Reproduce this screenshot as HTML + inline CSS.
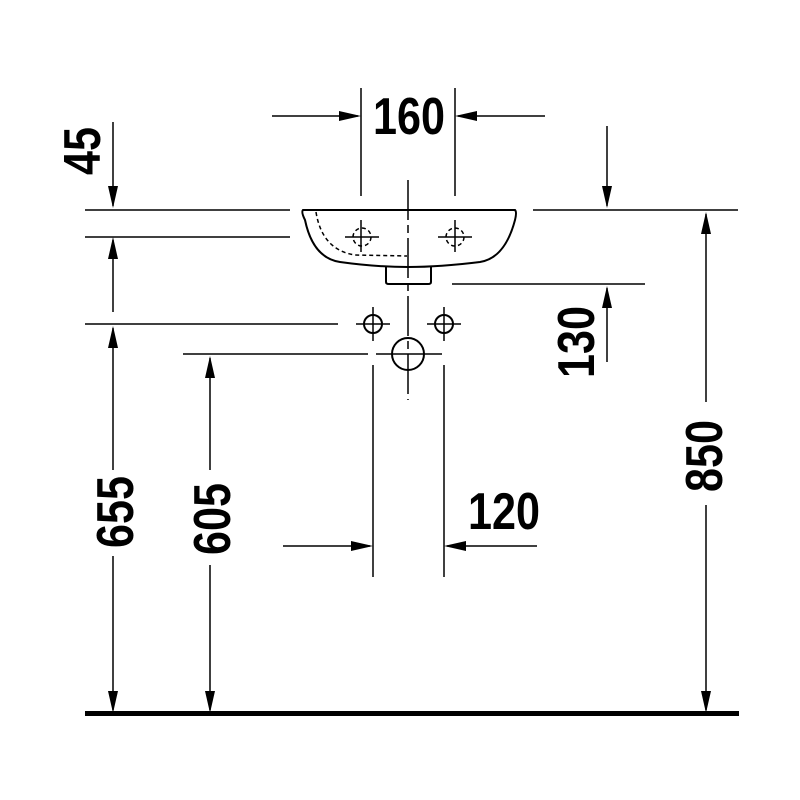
<!DOCTYPE html>
<html><head><style>html,body{margin:0;padding:0;background:#fff}svg{display:block}</style></head><body>
<svg width="800" height="800" viewBox="0 0 800 800" xmlns="http://www.w3.org/2000/svg">
<g stroke="#000" stroke-width="1.5" fill="none">
<line x1="272" y1="116" x2="358" y2="116"/><line x1="545" y1="116" x2="458" y2="116"/>
<line x1="361" y1="88" x2="361" y2="196"/><line x1="455" y1="88" x2="455" y2="196"/>
<line x1="113" y1="122" x2="113" y2="206"/>
<line x1="85" y1="210" x2="290" y2="210"/><line x1="85" y1="237" x2="290" y2="237"/>
<line x1="113" y1="240" x2="113" y2="312"/>
<line x1="85" y1="324" x2="338" y2="324"/>
<line x1="113" y1="328" x2="113" y2="470"/><line x1="113" y1="556" x2="113" y2="710"/>
<line x1="183" y1="354" x2="368" y2="354"/>
<line x1="210" y1="358" x2="210" y2="470"/><line x1="210" y1="565" x2="210" y2="710"/>
<line x1="533" y1="210" x2="738" y2="210"/>
<line x1="607" y1="126" x2="607" y2="206"/>
<line x1="706" y1="214" x2="706" y2="402"/><line x1="706" y1="505" x2="706" y2="710"/>
<line x1="452" y1="284" x2="645" y2="284"/>
<line x1="607" y1="288" x2="607" y2="362"/>
<line x1="373" y1="365" x2="373" y2="577"/><line x1="444" y1="365" x2="444" y2="577"/>
<line x1="283" y1="546" x2="370" y2="546"/><line x1="537" y1="546" x2="447" y2="546"/>
<path d="M303 210 L515 210 Q517 212 515 220 Q505 258 480 262 Q440 267 408 267 Q376 267 340 262 Q313 258 305 220 Q301 212 303 210 Z" stroke-width="2" fill="#fff"/>
<path d="M386 267 L386 282 Q386 284 389 284 L428 284 Q431 284 431 282 L431 267" stroke-width="2"/>
<path d="M316 212 Q322 250 355 255 L407 256" stroke-dasharray="4,3"/>
<line x1="408" y1="180" x2="408" y2="400" stroke-dasharray="40,5,8,5"/>
<circle cx="362" cy="237" r="9" stroke-dasharray="4,3"/><circle cx="455" cy="237" r="9" stroke-dasharray="4,3"/>
<line x1="345" y1="237" x2="379" y2="237"/><line x1="361" y1="220" x2="361" y2="252"/>
<line x1="438" y1="237" x2="472" y2="237"/><line x1="455" y1="220" x2="455" y2="252"/>
<circle cx="373" cy="324" r="9" stroke-width="2"/><circle cx="444" cy="324" r="9" stroke-width="2"/>
<line x1="356" y1="324" x2="390" y2="324"/><line x1="373" y1="307" x2="373" y2="341"/>
<line x1="427" y1="324" x2="461" y2="324"/><line x1="444" y1="307" x2="444" y2="341"/>
<circle cx="408" cy="354" r="16" stroke-width="2"/>
<line x1="376" y1="354" x2="442" y2="354"/>
</g>
<g fill="#000">
<path d="M361 116 l-22 -5 v10z"/><path d="M455 116 l22 -5 v10z"/>
<path d="M113 208 l-5 -22 h10z"/><path d="M113 237 l-5 22 h10z"/>
<path d="M113 326 l-5 22 h10z"/><path d="M113 713 l-5 -22 h10z"/>
<path d="M210 356 l-5 22 h10z"/><path d="M210 713 l-5 -22 h10z"/>
<path d="M607 208 l-5 -22 h10z"/><path d="M607 286 l-5 22 h10z"/>
<path d="M706 212 l-5 22 h10z"/><path d="M706 713 l-5 -22 h10z"/>
<path d="M373 546 l-22 -5 v10z"/><path d="M444 546 l22 -5 v10z"/>
<rect x="85" y="711" width="654" height="5"/>
</g>
<g font-family="Liberation Sans, sans-serif" font-weight="bold" font-size="52" fill="#000">
<text x="373" y="134" textLength="72" lengthAdjust="spacingAndGlyphs">160</text>
<text x="468" y="529" textLength="72" lengthAdjust="spacingAndGlyphs">120</text>
<text transform="translate(100,175) rotate(-90)" textLength="48" lengthAdjust="spacingAndGlyphs">45</text>
<text transform="translate(133,548) rotate(-90)" textLength="72" lengthAdjust="spacingAndGlyphs">655</text>
<text transform="translate(230,555) rotate(-90)" textLength="72" lengthAdjust="spacingAndGlyphs">605</text>
<text transform="translate(594,378) rotate(-90)" textLength="72" lengthAdjust="spacingAndGlyphs">130</text>
<text transform="translate(722,492) rotate(-90)" textLength="72" lengthAdjust="spacingAndGlyphs">850</text>
</g>
</svg>
</body></html>
